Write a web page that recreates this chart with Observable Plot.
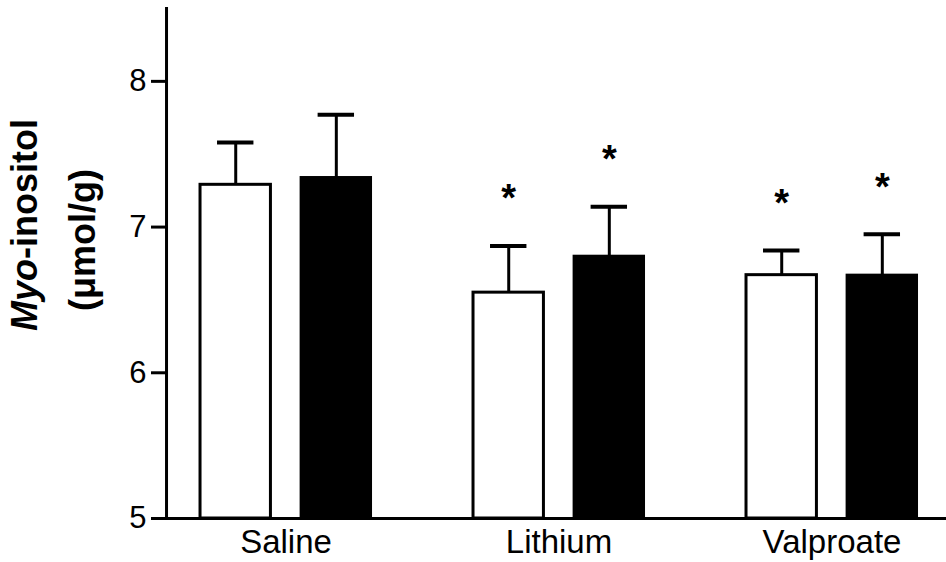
<!DOCTYPE html>
<html>
<head>
<meta charset="utf-8">
<script src="https://cdn.jsdelivr.net/npm/d3@7"></script>
<script src="https://cdn.jsdelivr.net/npm/@observablehq/plot@0.6"></script>
<style>
  body { margin: 0; background: #fff; }
  #chart { width: 946px; height: 562px; }
</style>
</head>
<body>
<div id="chart"></div>
<script>
// Treatment groups and the two bar series within each group
const groups = ["Saline", "Lithium", "Valproate"];
const series = ["open", "filled"];

// Myo-inositol means and SEM (µmol/g)
const meanOpen = [7.29, 6.55, 6.67];
const semOpen = [0.29, 0.32, 0.17];
const meanFilled = [7.34, 6.80, 6.67];
const semFilled = [0.43, 0.34, 0.28];

// Significance markers (*) per bar
const starOpen = [false, true, true];
const starFilled = [false, true, true];

// Y axis ticks
const yTicks = [5, 6, 7, 8];

const rows = groups.flatMap((g, i) => [
  {group: g, series: "open", mean: meanOpen[i], sem: semOpen[i], star: starOpen[i]},
  {group: g, series: "filled", mean: meanFilled[i], sem: semFilled[i], star: starFilled[i]}
]);
const upper = d => d.mean + d.sem;
const font = "'Liberation Sans', Arial, Helvetica, sans-serif";

const chart = Plot.plot({
  width: 946,
  height: 562,
  marginLeft: 166,
  marginRight: 0,
  marginTop: 8,
  marginBottom: 44,
  style: {fontFamily: font, color: "#000", background: "#fff"},
  fx: {domain: groups, paddingInner: 0.3736, paddingOuter: 0.1154, align: 0.54, round: false},
  x: {domain: series, paddingInner: 0.3, paddingOuter: 0, round: false, axis: null},
  y: {domain: [5, 8.5]},
  marks: [
    // error bars (upper half only)
    Plot.ruleX(rows, {fx: "group", x: "series", y1: "mean", y2: upper, stroke: "#000", strokeWidth: 3}),
    Plot.tickY(rows, {fx: "group", x: "series", y: upper, stroke: "#000", strokeWidth: 4, insetLeft: 17, insetRight: 17}),
    // bars
    Plot.barY(rows, {filter: d => d.series === "open", fx: "group", x: "series", y1: 5, y2: "mean", fill: "#fff", stroke: "#000", strokeWidth: 3}),
    Plot.barY(rows, {filter: d => d.series === "filled", fx: "group", x: "series", y1: 5, y2: "mean", fill: "#000", stroke: "#000", strokeWidth: 2}),
    // significance asterisks
    Plot.text(rows, {filter: d => d.star, fx: "group", x: "series", y: upper, text: () => "*", dy: -47, fontSize: 38, fontWeight: "bold", fill: "#000"}),
    // axis lines spanning the whole plot area
    Plot.frame({anchor: "left", facet: "super", stroke: "#000", strokeWidth: 3, insetLeft: -34}),
    Plot.frame({anchor: "bottom", facet: "super", stroke: "#000", strokeWidth: 3, insetLeft: -34, insetRight: -29}),
    Plot.axisY(yTicks, {tickSize: 15, tickPadding: 5, fontSize: 31, stroke: "#000", strokeWidth: 3, tickFormat: d3.format("d"), label: null, dx: -34}),
    Plot.axisFx({anchor: "bottom", tickSize: 0, tickPadding: 11, fontSize: 33, label: null})
  ]
});

document.getElementById("chart").appendChild(chart);

// Two-line rotated y-axis title
const svg = d3.select(chart);
const title = svg.append("g")
  .attr("font-family", font)
  .attr("font-weight", "bold")
  .attr("font-size", 36)
  .attr("text-anchor", "middle")
  .attr("fill", "#000");
const line1 = title.append("text").attr("transform", "translate(37,225) rotate(-90)");
line1.append("tspan").attr("font-style", "italic").text("Myo");
line1.append("tspan").text("-inositol");
title.append("text").attr("transform", "translate(95,240) rotate(-90)").text("(\u03bcmol/g)");
</script>
</body>
</html>
